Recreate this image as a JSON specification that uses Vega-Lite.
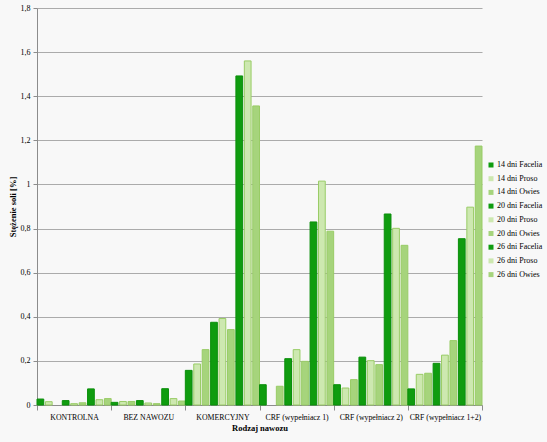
{
  "$schema": "https://vega.github.io/schema/vega-lite/v6.json",
  "width": 445,
  "height": 397,
  "autosize": {"type": "none"},
  "padding": {"left": 37, "top": 8, "right": 65, "bottom": 37},
  "background": "#f8f8f8",
  "config": {
    "view": {"stroke": null},
    "font": "Liberation Serif, Times New Roman, serif",
    "axis": {"labelFont": "Liberation Serif, Times New Roman, serif", "titleFont": "Liberation Serif, Times New Roman, serif", "labelColor": "#000", "titleColor": "#000"},
    "legend": {"labelFont": "Liberation Serif, Times New Roman, serif", "labelColor": "#000"}
  },
  "data": {
    "values": [
      {"r": "KONTROLNA", "s": "14 dni Facelia", "v": 0.027},
      {"r": "KONTROLNA", "s": "14 dni Proso", "v": 0.015},
      {"r": "KONTROLNA", "s": "20 dni Facelia", "v": 0.02},
      {"r": "KONTROLNA", "s": "20 dni Proso", "v": 0.006},
      {"r": "KONTROLNA", "s": "20 dni Owies", "v": 0.01},
      {"r": "KONTROLNA", "s": "26 dni Facelia", "v": 0.073},
      {"r": "KONTROLNA", "s": "26 dni Proso", "v": 0.024},
      {"r": "KONTROLNA", "s": "26 dni Owies", "v": 0.029},
      {"r": "BEZ NAWOZU", "s": "14 dni Facelia", "v": 0.012},
      {"r": "BEZ NAWOZU", "s": "14 dni Proso", "v": 0.016},
      {"r": "BEZ NAWOZU", "s": "14 dni Owies", "v": 0.016},
      {"r": "BEZ NAWOZU", "s": "20 dni Facelia", "v": 0.02},
      {"r": "BEZ NAWOZU", "s": "20 dni Proso", "v": 0.009},
      {"r": "BEZ NAWOZU", "s": "20 dni Owies", "v": 0.006},
      {"r": "BEZ NAWOZU", "s": "26 dni Facelia", "v": 0.074},
      {"r": "BEZ NAWOZU", "s": "26 dni Proso", "v": 0.029},
      {"r": "BEZ NAWOZU", "s": "26 dni Owies", "v": 0.018},
      {"r": "KOMERCYJNY", "s": "14 dni Facelia", "v": 0.157},
      {"r": "KOMERCYJNY", "s": "14 dni Proso", "v": 0.186},
      {"r": "KOMERCYJNY", "s": "14 dni Owies", "v": 0.251},
      {"r": "KOMERCYJNY", "s": "20 dni Facelia", "v": 0.375},
      {"r": "KOMERCYJNY", "s": "20 dni Proso", "v": 0.392},
      {"r": "KOMERCYJNY", "s": "20 dni Owies", "v": 0.342},
      {"r": "KOMERCYJNY", "s": "26 dni Facelia", "v": 1.492},
      {"r": "KOMERCYJNY", "s": "26 dni Proso", "v": 1.56},
      {"r": "KOMERCYJNY", "s": "26 dni Owies", "v": 1.356},
      {"r": "CRF (wypełniacz 1)", "s": "14 dni Facelia", "v": 0.092},
      {"r": "CRF (wypełniacz 1)", "s": "14 dni Owies", "v": 0.085},
      {"r": "CRF (wypełniacz 1)", "s": "20 dni Facelia", "v": 0.21},
      {"r": "CRF (wypełniacz 1)", "s": "20 dni Proso", "v": 0.251},
      {"r": "CRF (wypełniacz 1)", "s": "20 dni Owies", "v": 0.198},
      {"r": "CRF (wypełniacz 1)", "s": "26 dni Facelia", "v": 0.83},
      {"r": "CRF (wypełniacz 1)", "s": "26 dni Proso", "v": 1.015},
      {"r": "CRF (wypełniacz 1)", "s": "26 dni Owies", "v": 0.788},
      {"r": "CRF (wypełniacz 2)", "s": "14 dni Facelia", "v": 0.092},
      {"r": "CRF (wypełniacz 2)", "s": "14 dni Proso", "v": 0.077},
      {"r": "CRF (wypełniacz 2)", "s": "14 dni Owies", "v": 0.115},
      {"r": "CRF (wypełniacz 2)", "s": "20 dni Facelia", "v": 0.217},
      {"r": "CRF (wypełniacz 2)", "s": "20 dni Proso", "v": 0.201},
      {"r": "CRF (wypełniacz 2)", "s": "20 dni Owies", "v": 0.183},
      {"r": "CRF (wypełniacz 2)", "s": "26 dni Facelia", "v": 0.866},
      {"r": "CRF (wypełniacz 2)", "s": "26 dni Proso", "v": 0.801},
      {"r": "CRF (wypełniacz 2)", "s": "26 dni Owies", "v": 0.724},
      {"r": "CRF (wypełniacz 1+2)", "s": "14 dni Facelia", "v": 0.073},
      {"r": "CRF (wypełniacz 1+2)", "s": "14 dni Proso", "v": 0.139},
      {"r": "CRF (wypełniacz 1+2)", "s": "14 dni Owies", "v": 0.144},
      {"r": "CRF (wypełniacz 1+2)", "s": "20 dni Facelia", "v": 0.189},
      {"r": "CRF (wypełniacz 1+2)", "s": "20 dni Proso", "v": 0.226},
      {"r": "CRF (wypełniacz 1+2)", "s": "20 dni Owies", "v": 0.292},
      {"r": "CRF (wypełniacz 1+2)", "s": "26 dni Facelia", "v": 0.754},
      {"r": "CRF (wypełniacz 1+2)", "s": "26 dni Proso", "v": 0.897},
      {"r": "CRF (wypełniacz 1+2)", "s": "26 dni Owies", "v": 1.174}
    ]
  },
  "mark": {"type": "bar", "strokeWidth": 1},
  "encoding": {
    "x": {
      "field": "r",
      "type": "nominal",
      "sort": ["KONTROLNA", "BEZ NAWOZU", "KOMERCYJNY", "CRF (wypełniacz 1)", "CRF (wypełniacz 2)", "CRF (wypełniacz 1+2)"],
      "scale": {"paddingInner": 0, "paddingOuter": 0},
      "title": "Rodzaj nawozu",
      "axis": {
        "labelAngle": 0,
        "labelFontSize": 7.8,
        "labelPadding": 3,
        "labelOverlap": false,
        "tickBand": "extent",
        "tickSize": 5,
        "tickColor": "#8c8c8c",
        "domainColor": "#8c8c8c",
        "titleFontSize": 8.5,
        "titleFontWeight": "bold",
        "titlePadding": 3
      }
    },
    "xOffset": {
      "field": "s",
      "type": "nominal",
      "sort": ["14 dni Facelia", "14 dni Proso", "14 dni Owies", "20 dni Facelia", "20 dni Proso", "20 dni Owies", "26 dni Facelia", "26 dni Proso", "26 dni Owies"],
      "scale": {"paddingInner": 0.2, "paddingOuter": 0}
    },
    "y": {
      "field": "v",
      "type": "quantitative",
      "title": "Stężenie soli [%]",
      "scale": {"domain": [0, 1.8], "nice": false},
      "axis": {
        "values": [0, 0.2, 0.4, 0.6, 0.8, 1, 1.2, 1.4, 1.6, 1.8],
        "labelExpr": "replace(format(datum.value, '~g'), '.', ',')",
        "labelFontSize": 8,
        "labelPadding": 3,
        "tickSize": 4,
        "tickColor": "#8c8c8c",
        "domainColor": "#8c8c8c",
        "gridColor": "#ababab",
        "titleFontSize": 8.5,
        "titleFontWeight": "bold",
        "titlePadding": 3
      }
    },
    "color": {
      "field": "s",
      "type": "nominal",
      "title": null,
      "scale": {
        "domain": ["14 dni Facelia", "14 dni Proso", "14 dni Owies", "20 dni Facelia", "20 dni Proso", "20 dni Owies", "26 dni Facelia", "26 dni Proso", "26 dni Owies"],
        "range": ["#0f9c0f", "#cde8b0", "#a6d47c", "#0f9c0f", "#cde8b0", "#a6d47c", "#0f9c0f", "#cde8b0", "#a6d47c"]
      },
      "legend": {
        "orient": "none",
        "legendX": 450,
        "legendY": 153,
        "symbolType": "square",
        "symbolSize": 25,
        "symbolStrokeWidth": 0,
        "labelFontSize": 8,
        "labelOffset": 2,
        "labelLimit": 60,
        "rowPadding": 5.7
      }
    },
    "stroke": {
      "field": "s",
      "type": "nominal",
      "scale": {
        "domain": ["14 dni Facelia", "14 dni Proso", "14 dni Owies", "20 dni Facelia", "20 dni Proso", "20 dni Owies", "26 dni Facelia", "26 dni Proso", "26 dni Owies"],
        "range": ["#0b8f0b", "#99cc66", "#99cc66", "#0b8f0b", "#99cc66", "#99cc66", "#0b8f0b", "#99cc66", "#99cc66"]
      },
      "legend": null
    }
  }
}
